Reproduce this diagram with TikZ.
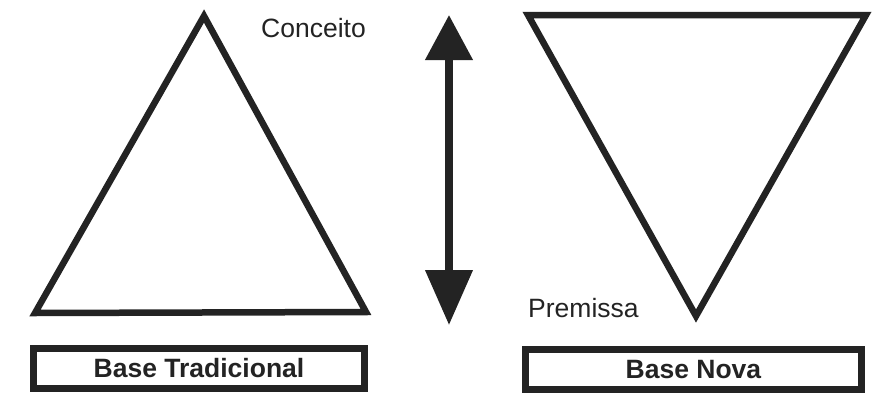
\documentclass[tikz,border=0pt]{standalone}
\usepackage{fontspec}
\setmainfont{Liberation Sans}
\usetikzlibrary{arrows.meta}
\definecolor{ink}{HTML}{232323}
\tikzset{
  outline/.style={draw=ink, line width=6.5pt, line join=miter},
  basebox/.style={draw=ink, line width=7pt, fill=white, inner sep=0pt,
    font=\fontsize{26.5}{30}\selectfont\bfseries, text=ink},
  caption/.style={anchor=base west, inner sep=0pt,
    font=\fontsize{26.5}{30}\selectfont, text=ink},
  bothways/.style={draw=ink, line width=7.5pt,
    {Triangle[length=45pt,width=46pt]}-{Triangle[length=55pt,width=46pt]}}
}
\begin{document}
\begin{tikzpicture}[x=1pt, y=-1pt]
  \useasboundingbox (0,0) rectangle (879,394);

  % upward triangle: traditional base
  \coordinate (L1) at (204,16);
  \coordinate (L2) at (35,313);
  \coordinate (L3) at (366,312);
  \draw[outline] (L1) -- (L2) -- (L3) -- cycle;

  % downward triangle: new base
  \coordinate (R1) at (528,15);
  \coordinate (R2) at (866,15);
  \coordinate (R3) at (696,316);
  \draw[outline] (R1) -- (R2) -- (R3) -- cycle;

  % double-headed arrow between concept and premise
  \coordinate (up) at (449,15);
  \coordinate (down) at (449,325);
  \draw[bothways] (up) -- (down);

  % labels
  \node[caption] (conceito) at (261,37) {Conceito};
  \node[caption] (premissa) at (528,317) {Premissa};

  % base boxes
  \node[basebox, minimum width=331pt, minimum height=40pt] (tradicional)
    at (199,368.5) {Base Tradicional};
  \node[basebox, minimum width=336pt, minimum height=40pt] (nova)
    at (693.5,369.5) {Base Nova};
\end{tikzpicture}
\end{document}
